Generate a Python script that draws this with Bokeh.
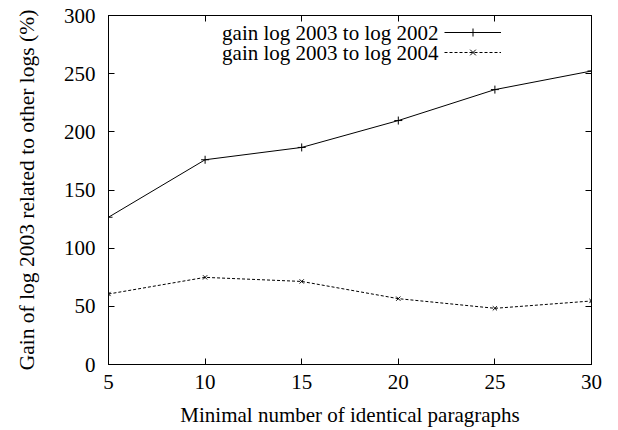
from bokeh.plotting import figure
from bokeh.models import (Range1d, LinearAxis, FixedTicker, Legend, LegendItem, Label)
from bokeh.embed import file_html
from bokeh.resources import INLINE

min_paragraphs = [5, 10, 15, 20, 25, 30]
gain_2002 = [126.6, 176.0, 186.6, 209.7, 236.3, 252.3]
gain_2004 = [60.6, 74.9, 71.4, 56.6, 48.3, 54.6]
series_names = ["gain log 2003 to log 2002", "gain log 2003 to log 2004"]
x_ticks = [5, 10, 15, 20, 25, 30]
y_ticks = [0, 50, 100, 150, 200, 250, 300]

FONT = "Liberation Serif"
FS = "21px"

p = figure(width=618, height=430, output_backend="svg", toolbar_location=None,
           x_range=Range1d(5, 30), y_range=Range1d(0, 300),
           min_border_left=108, min_border_right=27, min_border_top=15, min_border_bottom=66)
p.background_fill_color = "white"
p.border_fill_color = "white"
p.outline_line_color = "black"
p.outline_line_width = 1
p.xgrid.visible = False
p.ygrid.visible = False

for ax in (p.xaxis[0], p.yaxis[0]):
    ax.major_label_text_font = FONT
    ax.major_label_text_font_size = FS
    ax.major_label_text_color = "black"
    ax.axis_label_text_font = FONT
    ax.axis_label_text_font_size = FS
    ax.axis_label_text_font_style = "normal"
    ax.axis_label_text_color = "black"
    ax.major_tick_in = 6
    ax.major_tick_out = 0
    ax.minor_tick_line_color = None
    ax.axis_line_color = "black"
    ax.major_tick_line_color = "black"

p.xaxis[0].ticker = FixedTicker(ticks=x_ticks)
p.yaxis[0].ticker = FixedTicker(ticks=y_ticks)
p.xaxis[0].axis_label = "Minimal number of identical paragraphs"
p.yaxis[0].axis_label = "Gain of log 2003 related to other logs (%)"
p.yaxis[0].axis_label_text_font_size = "21.5px"
p.xaxis[0].major_label_standoff = 10
p.yaxis[0].major_label_standoff = 13
p.xaxis[0].axis_label_standoff = 11
p.yaxis[0].axis_label_standoff = 22

# mirrored ticks (no labels)
right_ax = LinearAxis(ticker=FixedTicker(ticks=y_ticks), major_label_text_color=None,
                      major_tick_in=6, major_tick_out=0, minor_tick_line_color=None,
                      major_label_standoff=0)
top_ax = LinearAxis(ticker=FixedTicker(ticks=x_ticks), major_label_text_color=None,
                    major_tick_in=6, major_tick_out=0, minor_tick_line_color=None,
                    major_label_standoff=0)
p.add_layout(right_ax, "right")
p.add_layout(top_ax, "above")

r1 = p.line(min_paragraphs, gain_2002, line_color="black", line_width=1)
s1 = p.scatter(min_paragraphs, gain_2002, marker="cross", size=8, line_color="black", line_width=1)
r2 = p.line(min_paragraphs, gain_2004, line_color="black", line_width=1, line_dash="3 2")
s2 = p.scatter(min_paragraphs, gain_2004, marker="x", size=6, line_color="black", line_width=1)

legend = Legend(items=[LegendItem(label="", renderers=[r1, s1]),
                       LegendItem(label="", renderers=[r2, s2])],
                location=(336, 302), padding=0, margin=0, spacing=0,
                glyph_width=57, glyph_height=20, label_standoff=0, label_width=0,
                label_height=20, border_line_color=None, background_fill_alpha=0)
p.add_layout(legend, "center")

for i, name in enumerate(series_names):
    p.add_layout(Label(x=330, y=332 - 20 * i, x_units="screen", y_units="screen",
                       text=name, text_align="right", text_baseline="middle",
                       text_font=FONT, text_font_size=FS, text_color="black"))

open("out.html", "w").write(file_html(p, INLINE))
